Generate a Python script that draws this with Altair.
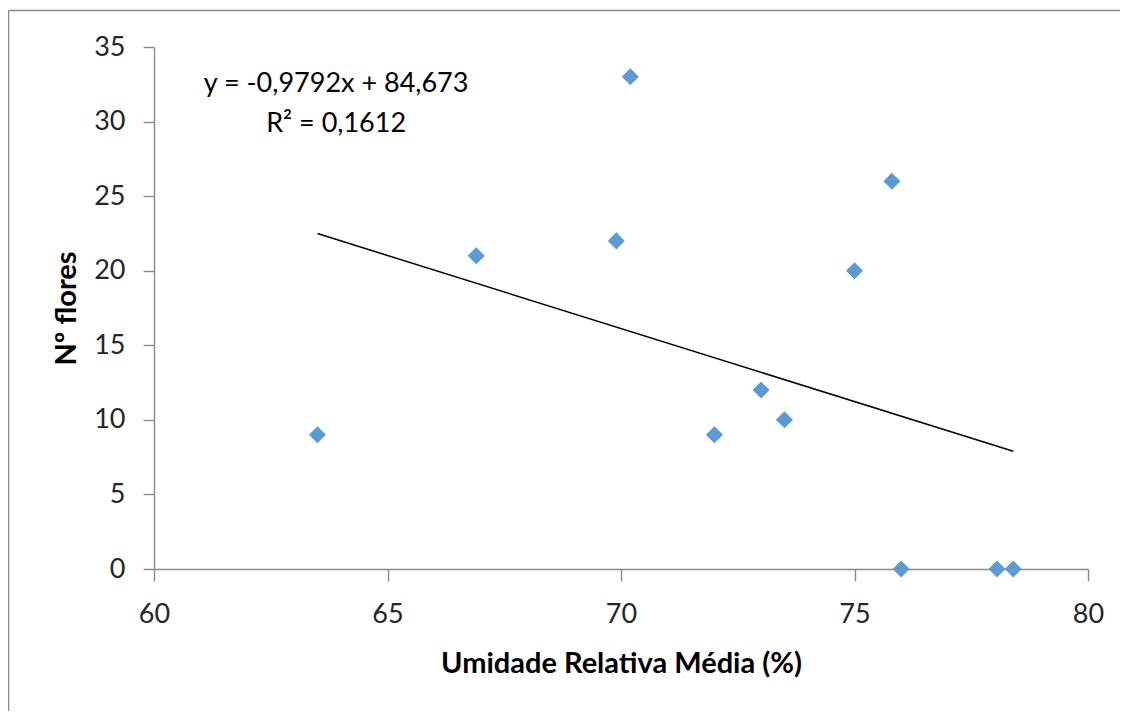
import altair as alt
import pandas as pd

# Data
umidade = [63.5, 66.9, 69.9, 70.2, 72.0, 73.0, 73.5, 75.0, 75.8, 76.0, 78.05, 78.4]
flores = [9, 21, 22, 33, 9, 12, 10, 20, 26, 0, 0, 0]

trend_x = [63.5, 78.4]
trend_y = [22.49, 7.90]

eq_labels = ["y = -0,9792x + 84,673", "R² = 0,1612"]
eq_x = [63.9, 63.9]
eq_y = [31.95, 29.3]

x_ticks = [60, 65, 70, 75, 80]
y_ticks = [0, 5, 10, 15, 20, 25, 30, 35]

pts = pd.DataFrame({"x": umidade, "y": flores})
trend = pd.DataFrame({"x": trend_x, "y": trend_y})
eq = pd.DataFrame({"x": eq_x, "y": eq_y, "t": eq_labels})

FONT = "Lato"
GRAY = "#898989"

xscale = alt.Scale(domain=[60, 80], nice=False, zero=False)
yscale = alt.Scale(domain=[0, 35], nice=False)

xaxis = alt.Axis(
    title="Umidade Relativa Média (%)", values=x_ticks, grid=False, labelFlush=False,
    labelFont=FONT, labelFontSize=27, labelColor="#262626", labelPadding=20,
    titleFont=FONT, titleFontSize=29, titleFontWeight="bold", titleColor="#000000",
    titlePadding=22, tickSize=12, tickColor=GRAY, domainColor=GRAY,
    domainWidth=1.4, tickWidth=1.4,
)
yaxis = alt.Axis(
    title="Nº flores", values=y_ticks, grid=False, labelFlush=False,
    labelFont=FONT, labelFontSize=27, labelColor="#262626", labelPadding=18,
    titleFont=FONT, titleFontSize=29, titleFontWeight="bold", titleColor="#000000",
    titlePadding=12, tickSize=11, tickColor=GRAY, domainColor=GRAY,
    domainWidth=1.4, tickWidth=1.4,
)

one = pd.DataFrame({"a": [0]})
border_top = alt.Chart(one).mark_rule(stroke=GRAY, strokeWidth=1.5).encode(
    x=alt.value(-145.5), x2=alt.value(966), y=alt.value(-36.5)
)
border_left = alt.Chart(one).mark_rule(stroke=GRAY, strokeWidth=1.5).encode(
    x=alt.value(-145.5), y=alt.value(-36.5), y2=alt.value(664)
)

points = alt.Chart(pts).mark_point(
    shape="diamond", filled=True, size=290, color="#5B9BD5", opacity=1
).encode(
    x=alt.X("x:Q", scale=xscale, axis=xaxis),
    y=alt.Y("y:Q", scale=yscale, axis=yaxis),
)

line = alt.Chart(trend).mark_line(color="#000000", strokeWidth=1.5).encode(
    x=alt.X("x:Q", scale=xscale),
    y=alt.Y("y:Q", scale=yscale),
)

text = alt.Chart(eq).mark_text(
    font=FONT, fontSize=27, color="#000000", align="center", baseline="alphabetic"
).encode(
    x=alt.X("x:Q", scale=xscale),
    y=alt.Y("y:Q", scale=yscale),
    text="t:N",
)

chart = alt.layer(border_top, border_left, line, points, text).properties(
    width=934, height=522,
    autosize=alt.AutoSizeParams(type="none"),
    padding={"left": 146, "top": 39, "right": 33, "bottom": 143},
    background="white",
).configure_view(stroke=None)

chart.save("out.html", embed_options={"renderer": "svg", "actions": False})
